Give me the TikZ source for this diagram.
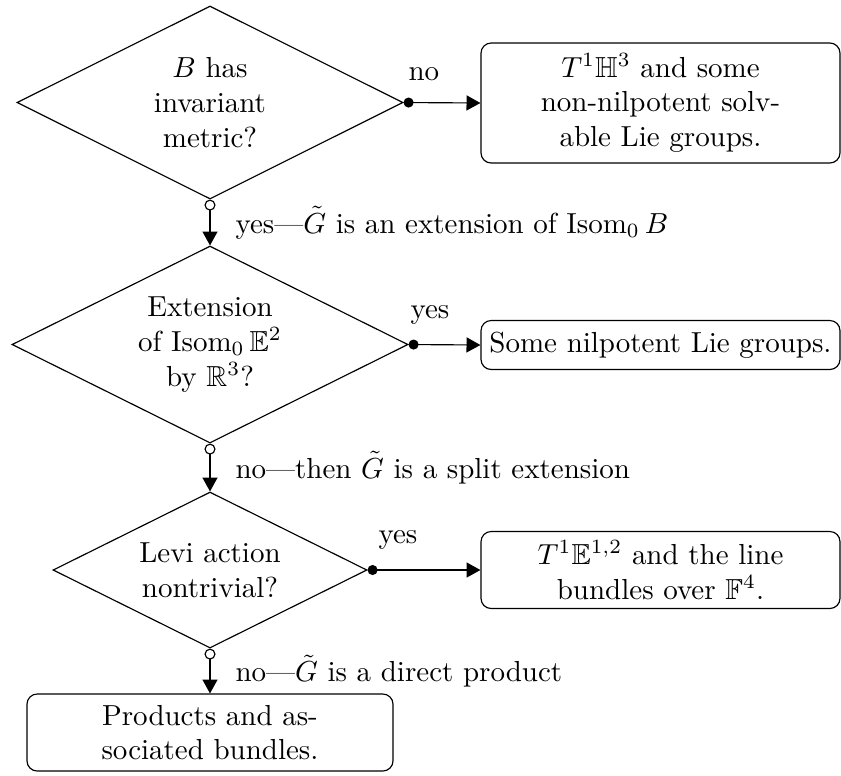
\documentclass[tikz,border=0pt]{standalone}
\usepackage{amsmath,amssymb}
\usetikzlibrary{shapes.geometric,arrows.meta}
\begin{document}
\begin{tikzpicture}[x=0.345pt,y=-0.345pt,
  decision/.style={draw, shape=diamond, aspect=2, inner sep=0pt, align=center},
  outcome/.style={draw, rounded corners=3.5pt, align=center, inner sep=0pt},
  lbl/.style={inner sep=0pt, anchor=base west},
  flowyes/.style={{Circle[length=3.45pt]}-{Triangle[length=4.8pt,width=5.2pt]}},
  flowno/.style={{Circle[open,length=3.8pt]}-{Triangle[length=4.8pt,width=5.2pt]}},
]
\useasboundingbox (0,0) rectangle (841,775);

% decisions
\node[decision, minimum width=386*0.345pt, minimum height=193*0.345pt] (d1) at (210,102.5)
  {$B$ has\\invariant\\metric?};
\node[decision, minimum width=396*0.345pt, minimum height=197*0.345pt] (d2) at (210,344.5)
  {Extension\\of $\operatorname{Isom}_0\mathbb{E}^2$\\by $\mathbb{R}^3$?};
\node[decision, minimum width=314*0.345pt, minimum height=156*0.345pt] (d3) at (210,570)
  {Levi action\\nontrivial?};

% outcomes
\node[outcome, minimum width=359*0.345pt, minimum height=120*0.345pt] (b1) at (660.5,103)
  {$T^1\mathbb{H}^3$ and some\\non-nilpotent solv-\\able Lie groups.};
\node[outcome, minimum width=359*0.345pt, minimum height=49*0.345pt] (b2) at (660.5,345)
  {Some nilpotent Lie groups.};
\node[outcome, minimum width=359*0.345pt, minimum height=77*0.345pt] (b3) at (660.5,570)
  {$T^1\mathbb{E}^{1,2}$ and the line\\bundles over $\mathbb{F}^4$.};
\node[outcome, minimum width=366*0.345pt, minimum height=77*0.345pt] (b4) at (210,732.5)
  {Products and as-\\sociated bundles.};

% connectors
\draw[flowyes] (d1.east) -- (b1.west);
\draw[flowyes] (d2.east) -- (b2.west);
\draw[flowyes] (d3.east) -- (b3.west);
\draw[flowno] (d1.south) -- (d2.north);
\draw[flowno] (d2.south) -- (d3.north);
\draw[flowno] (d3.south) -- (b4.north);

% labels
\node[lbl] (l1) at (408,80) {no};
\node[lbl] (l2) at (410,318) {yes};
\node[lbl] (l3) at (378,543) {yes};
\node[lbl] (l4) at (235,233) {yes\textemdash$\tilde G$ is an extension of $\operatorname{Isom}_0 B$};
\node[lbl] (l5) at (235,478) {no\textemdash then $\tilde G$ is a split extension};
\node[lbl] (l6) at (235,681.5) {no\textemdash$\tilde G$ is a direct product};
\end{tikzpicture}
\end{document}
